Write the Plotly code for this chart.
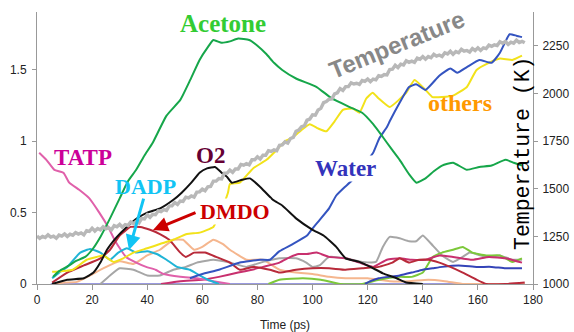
import plotly.graph_objects as go

# ---------------- data ----------------
acetone_x = [5.8, 8, 11.7, 14, 17.5, 20, 23, 26.5, 30, 33, 36, 39, 42, 47, 52, 55.6, 59, 62, 64, 67, 70, 73, 77, 80, 83.3, 86, 89, 94, 101.5, 107, 113.5, 118, 122, 125.5, 128.5, 131.6, 135, 137.7, 141, 144, 147, 151, 156, 160.5, 165, 170, 173, 176]
acetone_y = [0.05, 0.09, 0.13, 0.16, 0.19, 0.24, 0.33, 0.46, 0.60, 0.72, 0.80, 0.90, 0.99, 1.18, 1.29, 1.43, 1.57, 1.66, 1.71, 1.69, 1.70, 1.72, 1.71, 1.67, 1.61, 1.55, 1.50, 1.44, 1.38, 1.30, 1.24, 1.20, 1.12, 1.03, 0.95, 0.87, 0.77, 0.71, 0.74, 0.79, 0.83, 0.85, 0.80, 0.82, 0.83, 0.87, 0.85, 0.83]

tatp_x = [0.8, 3.4, 6.3, 9.6, 11.7, 15.3, 19, 22.6, 25.8, 28.7, 32.3, 36, 39.6, 43, 46, 52, 58, 64, 70]
tatp_y = [0.92, 0.87, 0.80, 0.78, 0.71, 0.66, 0.60, 0.50, 0.40, 0.29, 0.19, 0.15, 0.12, 0.10, 0.07, 0.05, 0.04, 0.02, 0.0]

o2_x = [5.5, 11, 17, 20.5, 23, 25.4, 29, 32.6, 36.3, 40, 44.7, 49.5, 52.5, 56, 59, 61.7, 64.6, 67, 69, 70.7, 74.4, 77.3, 81, 85.6, 89, 94, 100, 104, 108.6, 112, 117, 121, 125.5, 130.5, 134, 140]
o2_y = [0.0, 0.03, 0.04, 0.08, 0.15, 0.24, 0.33, 0.40, 0.46, 0.50, 0.53, 0.59, 0.64, 0.71, 0.78, 0.81, 0.82, 0.78, 0.75, 0.71, 0.73, 0.74, 0.68, 0.59, 0.55, 0.46, 0.38, 0.34, 0.26, 0.18, 0.155, 0.12, 0.075, 0.04, 0.01, 0.0]

dadp_x = [5.5, 8, 11, 15.7, 19.3, 23, 26.5, 29.5, 32.6, 36, 40, 43.5, 47, 50.8, 55.5, 59, 62, 66]
dadp_y = [0.04, 0.08, 0.12, 0.22, 0.245, 0.22, 0.17, 0.22, 0.25, 0.22, 0.23, 0.21, 0.17, 0.12, 0.10, 0.06, 0.03, 0.0]

dmdo_x = [5.5, 11, 17, 23, 26.5, 30, 34, 37.4, 41, 44.6, 48, 52, 54, 57, 61, 65, 70, 73.6, 78.4, 84.5, 88, 94, 100, 106, 112, 118, 124, 129, 131.6, 135, 138.7, 142, 146, 150, 154.5, 159.5, 163, 170, 177]
dmdo_y = [0.01, 0.08, 0.13, 0.18, 0.24, 0.34, 0.40, 0.40, 0.38, 0.35, 0.31, 0.22, 0.19, 0.22, 0.22, 0.19, 0.15, 0.10, 0.12, 0.10, 0.08, 0.10, 0.11, 0.11, 0.10, 0.11, 0.12, 0.15, 0.18, 0.15, 0.17, 0.17, 0.15, 0.12, 0.08, 0.03, 0.0, 0.0, 0.01]

water_x = [55.5, 60, 66, 73.6, 81, 84.5, 88, 92.8, 98, 100, 102.6, 106, 108.6, 111.7, 114, 118, 122, 124.2, 127, 128, 131.6, 135, 137.6, 141, 146, 150, 152.5, 156, 160.5, 165, 168, 171.5, 174, 176]
water_y = [0.04, 0.07, 0.10, 0.15, 0.17, 0.17, 0.23, 0.28, 0.34, 0.39, 0.45, 0.53, 0.62, 0.68, 0.72, 0.82, 0.92, 1.02, 1.10, 1.14, 1.27, 1.38, 1.40, 1.36, 1.46, 1.51, 1.48, 1.52, 1.57, 1.55, 1.62, 1.75, 1.74, 1.73]

others_x = [5.5, 9, 13, 18, 21.7, 24, 27.7, 31.3, 35, 40, 44.6, 49.5, 54.4, 59, 64, 66.5, 69.3, 70, 73.6, 78.4, 83.3, 87, 90, 93, 96, 99, 102, 105, 108, 111, 114.6, 117, 119.5, 121.8, 124, 128, 134, 137, 141, 143.5, 147, 151, 156, 159.5, 164, 168, 172.5, 176]
others_y = [0.085, 0.09, 0.10, 0.17, 0.19, 0.20, 0.155, 0.18, 0.22, 0.25, 0.28, 0.31, 0.35, 0.36, 0.40, 0.50, 0.64, 0.70, 0.71, 0.81, 0.87, 0.94, 1.00, 1.03, 1.08, 1.12, 1.09, 1.07, 1.14, 1.22, 1.23, 1.20, 1.30, 1.34, 1.30, 1.24, 1.34, 1.43, 1.36, 1.31, 1.31, 1.32, 1.38, 1.50, 1.55, 1.58, 1.57, 1.60]

peach_x = [5.5, 10, 14.5, 19.3, 24, 30, 35, 40, 44.6, 49.5, 53, 57, 60, 64, 67.5, 70, 76, 82, 88, 94, 100, 106, 112, 120, 128, 135, 142, 148, 155, 165, 177]
peach_y = [0.0, 0.01, 0.015, 0.06, 0.11, 0.16, 0.14, 0.20, 0.24, 0.31, 0.31, 0.24, 0.26, 0.31, 0.28, 0.24, 0.17, 0.17, 0.10, 0.08, 0.07, 0.05, 0.04, 0.04, 0.02, 0.02, 0.03, 0.02, 0.0, 0.0, 0.0]

grey_x = [23, 26.5, 30, 35, 40, 44.6, 49.5, 54, 58, 64, 70, 76, 82, 88, 94, 97.7, 100, 102.5, 106, 112, 118, 123, 125.5, 128, 131.6, 135, 137.6, 140, 143.6, 147, 151, 154.5, 157, 163, 168, 172.5, 176]
grey_y = [0.0, 0.06, 0.11, 0.10, 0.06, 0.06, 0.10, 0.12, 0.15, 0.17, 0.15, 0.12, 0.155, 0.18, 0.18, 0.15, 0.12, 0.13, 0.19, 0.18, 0.155, 0.155, 0.26, 0.33, 0.32, 0.30, 0.30, 0.34, 0.27, 0.20, 0.155, 0.19, 0.22, 0.19, 0.20, 0.17, 0.17]

crimson_x = [45, 52, 60, 66, 73, 78, 82, 88, 92, 95, 98, 101.5, 106, 112, 117, 122, 127, 131.6, 136, 141, 146, 151, 158, 164, 170, 176]
crimson_y = [0.0, 0.02, 0.03, 0.05, 0.08, 0.10, 0.12, 0.15, 0.19, 0.21, 0.21, 0.22, 0.19, 0.18, 0.15, 0.12, 0.17, 0.18, 0.17, 0.17, 0.20, 0.19, 0.17, 0.19, 0.18, 0.15]

lgreen_x = [84, 88, 96.5, 103, 110, 118, 124, 131.6, 136, 140, 143.6, 147, 151, 154.5, 158, 163, 168, 172.5, 176]
lgreen_y = [0.0, 0.03, 0.04, 0.03, 0.0, 0.0, 0.03, 0.05, 0.05, 0.08, 0.19, 0.22, 0.24, 0.26, 0.22, 0.20, 0.20, 0.155, 0.18]

blue2_x = [119, 121, 124, 131.6, 136, 140, 143.6, 147, 153, 159.5, 165, 170, 176]
blue2_y = [0.0, 0.02, 0.04, 0.06, 0.08, 0.10, 0.11, 0.12, 0.13, 0.12, 0.12, 0.11, 0.11]

base_x = [5, 177]
base_y = [0.0, 0.0]

temp_x = [0, 1, 2, 3, 4, 5, 6, 7, 8, 9, 10, 11, 12, 13, 14, 15, 16, 17, 18, 19,
          20, 21, 22, 23, 24, 25, 26, 27, 28, 29, 30, 31, 32, 33, 34, 35, 36, 37, 38, 39,
          40, 41, 42, 43, 44, 45, 46, 47, 48, 49, 50, 51, 52, 53, 54, 55, 56, 57, 58, 59,
          60, 61, 62, 63, 64, 65, 66, 67, 68, 69, 70, 71, 72, 73, 74, 75, 76, 77, 78, 79,
          80, 81, 82, 83, 84, 85, 86, 87, 88, 89, 90, 91, 92, 93, 94, 95, 96, 97, 98, 99,
          100, 101, 102, 103, 104, 105, 106, 107, 108, 109, 110, 111, 112, 113, 114, 115, 116, 117, 118, 119,
          120, 121, 122, 123, 124, 125, 126, 127, 128, 129, 130, 131, 132, 133, 134, 135, 136, 137, 138, 139,
          140, 141, 142, 143, 144, 145, 146, 147, 148, 149, 150, 151, 152, 153, 154, 155, 156, 157, 158, 159,
          160, 161, 162, 163, 164, 165, 166, 167, 168, 169, 170, 171, 172, 173, 174, 175, 176, 177]
temp_k = [1252, 1240, 1250, 1244, 1258, 1246, 1251, 1240, 1257, 1252,
          1263, 1250, 1262, 1256, 1270, 1262, 1268, 1258, 1280, 1276,
          1293, 1278, 1291, 1284, 1300, 1290, 1296, 1284, 1306, 1300,
          1313, 1298, 1312, 1308, 1326, 1318, 1328, 1320, 1344, 1342,
          1363, 1350, 1366, 1364, 1384, 1380, 1390, 1386, 1410, 1410,
          1428, 1418, 1436, 1434, 1456, 1452, 1462, 1456, 1482, 1484,
          1498, 1490, 1510, 1512, 1540, 1540, 1554, 1552, 1582, 1582,
          1598, 1586, 1604, 1604, 1628, 1624, 1632, 1626, 1652, 1652,
          1668, 1656, 1676, 1676, 1700, 1696, 1704, 1700, 1728, 1730,
          1746, 1740, 1764, 1770, 1802, 1808, 1826, 1830, 1860, 1866,
          1888, 1886, 1914, 1922, 1952, 1958, 1970, 1972, 1998, 2004,
          2026, 2016, 2036, 2036, 2056, 2050, 2054, 2048, 2068, 2064,
          2076, 2062, 2076, 2072, 2094, 2090, 2100, 2098, 2126, 2128,
          2148, 2136, 2154, 2150, 2172, 2164, 2170, 2164, 2186, 2180,
          2194, 2180, 2194, 2188, 2206, 2196, 2202, 2194, 2214, 2208,
          2222, 2206, 2220, 2214, 2232, 2222, 2226, 2218, 2236, 2226,
          2240, 2226, 2240, 2236, 2254, 2248, 2256, 2252, 2272, 2264,
          2273, 2258, 2270, 2264, 2280, 2268, 2274, 2266]

x_ticks = [0, 20, 40, 60, 80, 100, 120, 140, 160, 180]
y_ticks = [0, 0.5, 1, 1.5]
y_tick_text = ["0", "0.5", "1", "1.5"]
t_ticks = [1000, 1250, 1500, 1750, 2000, 2250]

# ---------------- figure ----------------
fig = go.Figure()

def add(x, y, color, width=2, axis="y", shape="spline"):
    line = dict(color=color, width=width, shape=shape)
    if shape == "spline":
        line["smoothing"] = 0.4
    fig.add_trace(go.Scatter(x=x, y=y, mode="lines", yaxis=axis, line=line,
                             showlegend=False, hoverinfo="skip"))

add(base_x, base_y, "#9a9ae0")
add(temp_x, temp_k, "#b8b8b8", 3.4, "y2", "linear")
add(peach_x, peach_y, "#f5b68e")
add(grey_x, grey_y, "#a6a6a6")
add(lgreen_x, lgreen_y, "#7cc83a")
add(crimson_x, crimson_y, "#c8306e")
add(blue2_x, blue2_y, "#3444b8")
add(tatp_x, tatp_y, "#e060aa")
add(dadp_x, dadp_y, "#20b4d6")
add(dmdo_x, dmdo_y, "#b82a3a")
add(others_x, others_y, "#f2e21a")
add(water_x, water_y, "#3454c0")
add(o2_x, o2_y, "#111111")
add(acetone_x, acetone_y, "#16a64a")

serif = "Times New Roman, Liberation Serif, serif"

def label(text, x, y, color, size, bg=None):
    fig.add_annotation(x=x, y=y, xref="x", yref="y", text="<b>%s</b>" % text,
                       showarrow=False, font=dict(family=serif, size=size, color=color),
                       xanchor="center", yanchor="middle", bgcolor=bg, borderpad=0)

label("Acetone", 67.5, 1.825, "#33cc33", 25)
label("TATP", 16.8, 0.888, "#cc0099", 23)
label("O2", 62.8, 0.902, "#660033", 23)
label("DADP", 39.2, 0.685, "#11c4f4", 22)
label("DMDO", 71.8, 0.51, "#cc0000", 22, "white")
label("Water", 112, 0.811, "#3333bb", 23, "white")
label("others", 153.4, 1.27, "#ff9900", 24)

fig.add_annotation(x=130.5, y=1.68, xref="x", yref="y", text="<b>Temperature</b>",
                   showarrow=False, textangle=-22, xanchor="center", yanchor="middle",
                   font=dict(family="Arial, Liberation Sans, sans-serif", size=24, color="#888888"))

# arrows
fig.add_annotation(x=33.4, y=0.238, xref="x", yref="y", text="", showarrow=True,
                   ax=15, ay=-53, arrowcolor="#11c4f4", arrowwidth=3, arrowhead=2, arrowsize=1)
fig.add_annotation(x=42.1, y=0.378, xref="x", yref="y", text="", showarrow=True,
                   ax=44, ay=-18, arrowcolor="#cc0000", arrowwidth=3, arrowhead=2, arrowsize=1)

# right axis title inside plot
fig.add_annotation(x=0.981, y=0.48, xref="paper", yref="paper", text="Temperature (K)",
                   showarrow=False, textangle=-90, xanchor="center", yanchor="middle",
                   font=dict(family="Liberation Mono, Courier New, monospace", size=21.5, color="#000000"))

tickfont = dict(family="Arial, Liberation Sans, sans-serif", size=12, color="#222222")

fig.update_layout(
    width=574, height=332,
    margin=dict(l=37, r=41, t=12, b=48),
    paper_bgcolor="white", plot_bgcolor="white",
    xaxis=dict(range=[0, 180], tickvals=x_ticks, showgrid=False, zeroline=False, automargin=False,
               showline=True, linecolor="#999999", linewidth=1, ticks="outside", ticklen=5,
               tickcolor="#999999", tickfont=tickfont,
               title=dict(text="Time (ps)", font=dict(family="Arial, Liberation Sans, sans-serif", size=12, color="#222222"), standoff=15)),
    yaxis=dict(range=[0, 1.906], tickvals=y_ticks, ticktext=y_tick_text, showgrid=False, zeroline=False,
               automargin=False, ticklabelstandoff=3,
               showline=True, linecolor="#999999", linewidth=1, ticks="outside", ticklen=4,
               tickcolor="#999999", tickfont=tickfont),
    yaxis2=dict(range=[1000, 2428], tickvals=t_ticks, overlaying="y", side="right", automargin=False,
                ticklabelstandoff=2,
                showgrid=False, zeroline=False, showline=True, linecolor="#999999", linewidth=1,
                ticks="outside", ticklen=4, tickcolor="#999999", tickfont=tickfont),
)

fig.write_html("out.html", config={"displayModeBar": False},
               post_script="document.body.style.margin='0px';document.body.style.padding='0px';")
